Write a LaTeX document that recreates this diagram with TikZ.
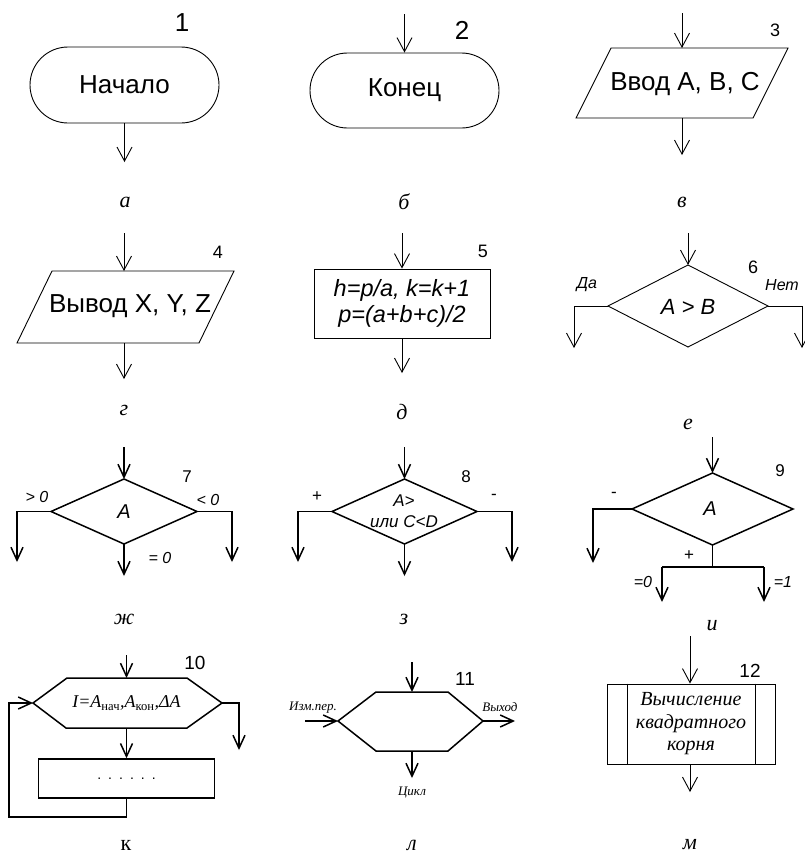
\documentclass[tikz,border=0pt]{standalone}
\usepackage{fontspec}
\setmainfont{Liberation Serif}
\setsansfont{Liberation Sans}
\usetikzlibrary{arrows.meta,shapes.geometric,shapes.misc}
\newcommand\myfs[2]{\fontsize{#1}{#2}\selectfont}
\tikzset{
  thinln/.style={line width=0.9pt},
  thickln/.style={line width=1.5pt},
  arr/.style={-{Straight Barb[length=14pt,width=15pt]}},
  arrb/.style={-{Straight Barb[length=13pt,width=12pt]}},
  bigtxt/.style={font=\sffamily\myfs{26}{30}, inner sep=0pt},
  numB/.style={font=\sffamily\myfs{18}{21}, inner sep=0pt},
  numC/.style={font=\sffamily\myfs{17}{20}, inner sep=0pt},
  numD/.style={font=\sffamily\myfs{19}{22}, inner sep=0pt},
  sublbl/.style={font=\itshape\myfs{22}{26}, inner sep=0pt},
  brA/.style={font=\sffamily\itshape\myfs{16}{19}, inner sep=0pt},
  brB/.style={font=\sffamily\itshape\myfs{16}{19}, inner sep=0pt},
  sml/.style={font=\itshape\myfs{13}{15}, inner sep=0pt},
  term/.style={draw, thinln, rounded rectangle, minimum width=189pt, minimum height=76pt, inner sep=0pt, font=\sffamily\myfs{26}{30}},
  dia/.style={draw, diamond, inner sep=0pt, outer sep=0pt},
}
\begin{document}
\begin{tikzpicture}[x=1pt,y=-1pt]
\fill[white] (0,0) rectangle (805,855);
\useasboundingbox (0,0) rectangle (805,855);

% ---------- 1
\node[term] (n1) at (124.5,85) {Начало};
\coordinate (o1) at (124.5,162);
\draw[thinln,arr] (n1.south) -- (o1);
\node[bigtxt] (k1) at (182,23) {1};
\node[sublbl] (s1) at (125,202) {а};

% ---------- 2
\node[term, minimum height=75pt] (n2) at (404.5,90.5) {Конец};
\coordinate (i2) at (404.5,14);
\draw[thinln,arr] (i2) -- (n2.north);
\node[bigtxt] (k2) at (462,30) {2};
\node[sublbl] (s2) at (404,202) {б};

% ---------- 3
\coordinate (p3a) at (611,48); \coordinate (p3b) at (788,48);
\coordinate (p3c) at (753,118); \coordinate (p3d) at (576,118);
\draw[thinln] (p3a) -- (p3b) -- (p3c) -- (p3d) -- cycle;
\coordinate (p3t) at (682,48); \coordinate (p3s) at (682,118);
\coordinate (i3) at (682,13); \coordinate (o3) at (682,155);
\draw[thinln,arr] (i3) -- (p3t);
\draw[thinln,arr] (p3s) -- (o3);
\node[bigtxt] (t3) at (685,84) {Ввод А, В, С};
\node[numB] (k3) at (775,30) {3};
\node[sublbl] (s3) at (682,202) {в};

% ---------- 4
\coordinate (p4a) at (52,271); \coordinate (p4b) at (234,271);
\coordinate (p4c) at (199,343); \coordinate (p4d) at (17,343);
\draw[thinln] (p4a) -- (p4b) -- (p4c) -- (p4d) -- cycle;
\coordinate (p4t) at (124,271); \coordinate (p4s) at (124,343);
\coordinate (i4) at (124,233); \coordinate (o4) at (124,379);
\draw[thinln,arr] (i4) -- (p4t);
\draw[thinln,arr] (p4s) -- (o4);
\node[bigtxt] (t4) at (130,306) {Вывод X, Y, Z};
\node[numB] (k4) at (218,252) {4};
\node[sublbl] (s4) at (124,410) {г};

% ---------- 5
\node[draw, thinln, minimum width=176pt, minimum height=69pt, inner sep=0pt, align=center,
      font=\sffamily\itshape\myfs{23.5}{26.5}] (n5) at (402,303.5) {h=p/a, k=k+1\\p=(a+b+c)/2};
\coordinate (i5) at (402,233); \coordinate (o5) at (402,373);
\draw[thinln,arr] (i5) -- (n5.north);
\draw[thinln,arr] (n5.south) -- (o5);
\node[numB] (k5) at (483,251) {5};
\node[sublbl] (s5) at (402,412) {д};

% ---------- 6
\node[dia, thinln, minimum width=160pt, minimum height=82pt] (d6) at (688,306) {};
\node[font=\sffamily\itshape\myfs{22}{26}, inner sep=0pt] (t6) at (688,307) {A > B};
\coordinate (i6) at (688,233);
\coordinate (b6l) at (574,306); \coordinate (e6l) at (574,348);
\coordinate (b6r) at (802,306); \coordinate (e6r) at (802,348);
\draw[thinln,arr] (i6) -- (d6.north);
\draw[thinln,arr] (d6.west) -- (b6l) -- (e6l);
\draw[thinln,arr] (d6.east) -- (b6r) -- (e6r);
\node[brA] (y6) at (587,285) {Да};
\node[brA] (no6) at (782,285) {Нет};
\node[numB] (k6) at (753,267) {6};
\node[sublbl] (s6) at (688,424) {е};

% ---------- 7
\node[dia, thickln, minimum width=146pt, minimum height=65pt] (d7) at (124,511.5) {};
\node[font=\sffamily\itshape\myfs{20}{23}, inner sep=0pt] (t7) at (124,512) {A};
\coordinate (i7) at (124,447);
\coordinate (b7l) at (17,511.5); \coordinate (e7l) at (17,562);
\coordinate (b7r) at (232,511.5); \coordinate (e7r) at (232,562);
\coordinate (e7s) at (124,576);
\draw[thickln,arrb] (i7) -- (d7.north);
\draw[thickln,arrb] (d7.west) -- (b7l) -- (e7l);
\draw[thickln,arrb] (d7.east) -- (b7r) -- (e7r);
\draw[thickln,arrb] (d7.south) -- (e7s);
\node[brB] (g7) at (37,497) {> 0};
\node[brB] (l7) at (208,500) {< 0};
\node[brB] (z7) at (160,558) {= 0};
\node[numC] (k7) at (187,477) {7};
\node[sublbl] (s7) at (124,619) {ж};

% ---------- 8
\node[dia, thickln, minimum width=145pt, minimum height=65pt] (d8) at (404.5,511.5) {};
\node[font=\sffamily\itshape\myfs{17}{21}, inner sep=0pt, align=center] (t8) at (404,511.5) {A>\\или C<D};
\coordinate (i8) at (404.5,447);
\coordinate (b8l) at (298,511.5); \coordinate (e8l) at (298,562);
\coordinate (b8r) at (512,511.5); \coordinate (e8r) at (512,562);
\coordinate (e8s) at (404.5,576);
\draw[thickln,arrb] (i8) -- (d8.north);
\draw[thickln,arrb] (d8.west) -- (b8l) -- (e8l);
\draw[thickln,arrb] (d8.east) -- (b8r) -- (e8r);
\draw[thickln,arrb] (d8.south) -- (e8s);
\node[font=\sffamily\myfs{17}{20}, inner sep=0pt] (pl8) at (317,497) {+};
\node[font=\sffamily\myfs{17}{20}, inner sep=0pt] (mi8) at (494,497) {-};
\node[numC] (k8) at (466,477) {8};
\node[sublbl] (s8) at (404,619) {з};

% ---------- 9
\node[dia, thickln, minimum width=161pt, minimum height=72pt] (d9) at (712.5,509) {};
\node[font=\sffamily\itshape\myfs{20}{23}, inner sep=0pt] (t9) at (710,509) {A};
\coordinate (i9) at (712.5,437);
\coordinate (b9l) at (593,509); \coordinate (e9l) at (593,563);
\coordinate (j9) at (712.5,567);
\coordinate (j9l) at (662,567); \coordinate (j9r) at (764,567);
\coordinate (e9a) at (662,602); \coordinate (e9b) at (764,602);
\draw[thickln,arrb] (i9) -- (d9.north);
\draw[thickln,arrb] (d9.west) -- (b9l) -- (e9l);
\draw[thickln] (d9.south) -- (j9);
\draw[thickln] (j9l) -- (j9r);
\draw[thickln,arrb] (j9l) -- (e9a);
\draw[thickln,arrb] (j9r) -- (e9b);
\node[font=\sffamily\myfs{17}{20}, inner sep=0pt] (mi9) at (614,495) {-};
\node[font=\sffamily\myfs{17}{20}, inner sep=0pt] (pl9) at (689,556) {+};
\node[brB] (z9) at (643,582) {=0};
\node[brB] (o9) at (783,582) {=1};
\node[numC] (k9) at (780,471) {9};
\node[sublbl] (s9) at (712,626) {и};

% ---------- 10
\coordinate (h10l) at (33,703); \coordinate (h10a) at (67,678);
\coordinate (h10b) at (187,678); \coordinate (h10r) at (222,703);
\coordinate (h10c) at (187,728); \coordinate (h10d) at (66,728);
\draw[thickln] (h10l) -- (h10a) -- (h10b) -- (h10r) -- (h10c) -- (h10d) -- cycle;
\node[font=\itshape\myfs{18}{21}, inner sep=0pt] (t10) at (126.5,703)
  {I=A\textsubscript{\upshape нач},A\textsubscript{\upshape кон},ΔA};
\coordinate (h10t) at (126.5,678); \coordinate (h10s) at (126.5,728);
\coordinate (i10) at (126.5,655);
\node[draw, thickln, minimum width=176pt, minimum height=39pt, inner sep=0pt,
      font=\sffamily\myfs{14}{16}] (r10) at (126.5,778.5)
  {.\hskip7pt.\hskip7pt.\hskip7pt.\hskip7pt.\hskip7pt.};
\coordinate (b10r) at (239,703); \coordinate (e10r) at (239,750);
\coordinate (q10a) at (126.5,817); \coordinate (q10b) at (9,817); \coordinate (q10c) at (9,703);
\draw[thickln,arrb] (i10) -- (h10t);
\draw[thickln,arrb] (h10s) -- (r10.north);
\draw[thickln,arrb] (h10r) -- (b10r) -- (e10r);
\draw[thickln,arrb] (r10.south) -- (q10a) -- (q10b) -- (q10c) -- (h10l);
\node[numD] (k10) at (195,663) {10};
\node[font=\myfs{22}{26}, inner sep=0pt] (s10) at (126,845) {к};

% ---------- 11
\coordinate (h11l) at (338,721); \coordinate (h11a) at (376,692);
\coordinate (h11b) at (448,692); \coordinate (h11r) at (483,721);
\coordinate (h11c) at (448,751); \coordinate (h11d) at (376,751);
\draw[thickln] (h11l) -- (h11a) -- (h11b) -- (h11r) -- (h11c) -- (h11d) -- cycle;
\coordinate (h11t) at (412,692); \coordinate (h11s) at (412,751);
\coordinate (i11) at (412,662); \coordinate (e11s) at (412,778);
\coordinate (i11l) at (305,721); \coordinate (e11r) at (515,721);
\draw[thickln,arrb] (i11) -- (h11t);
\draw[thickln,arrb] (h11s) -- (e11s);
\draw[thickln,arrb] (i11l) -- (h11l);
\draw[thickln,arrb] (h11r) -- (e11r);
\node[sml] (v11) at (313,708) {Изм.пер.};
\node[sml] (x11) at (500,707) {Выход};
\node[sml] (c11) at (412,793) {Цикл};
\node[numD] (k11) at (465,679) {11};
\node[sublbl] (s11) at (412,845) {л};

% ---------- 12
\node[draw, thinln, minimum width=168pt, minimum height=80pt, inner sep=0pt, align=center,
      font=\itshape\myfs{20}{22.5}] (n12) at (691,724) {Вычисление\\квадратного\\корня};
\draw[thinln] ([xshift=21pt]n12.north west) -- ([xshift=21pt]n12.south west);
\draw[thinln] ([xshift=-20pt]n12.north east) -- ([xshift=-20pt]n12.south east);
\coordinate (i12) at (690,636); \coordinate (o12) at (690,792);
\draw[thinln,arr] (i12) -- (n12.north -| i12);
\draw[thinln,arr] (n12.south -| i12) -- (o12);
\node[numD] (k12) at (750,671) {12};
\node[sublbl] (s12) at (690,845) {м};
\end{tikzpicture}
\end{document}
